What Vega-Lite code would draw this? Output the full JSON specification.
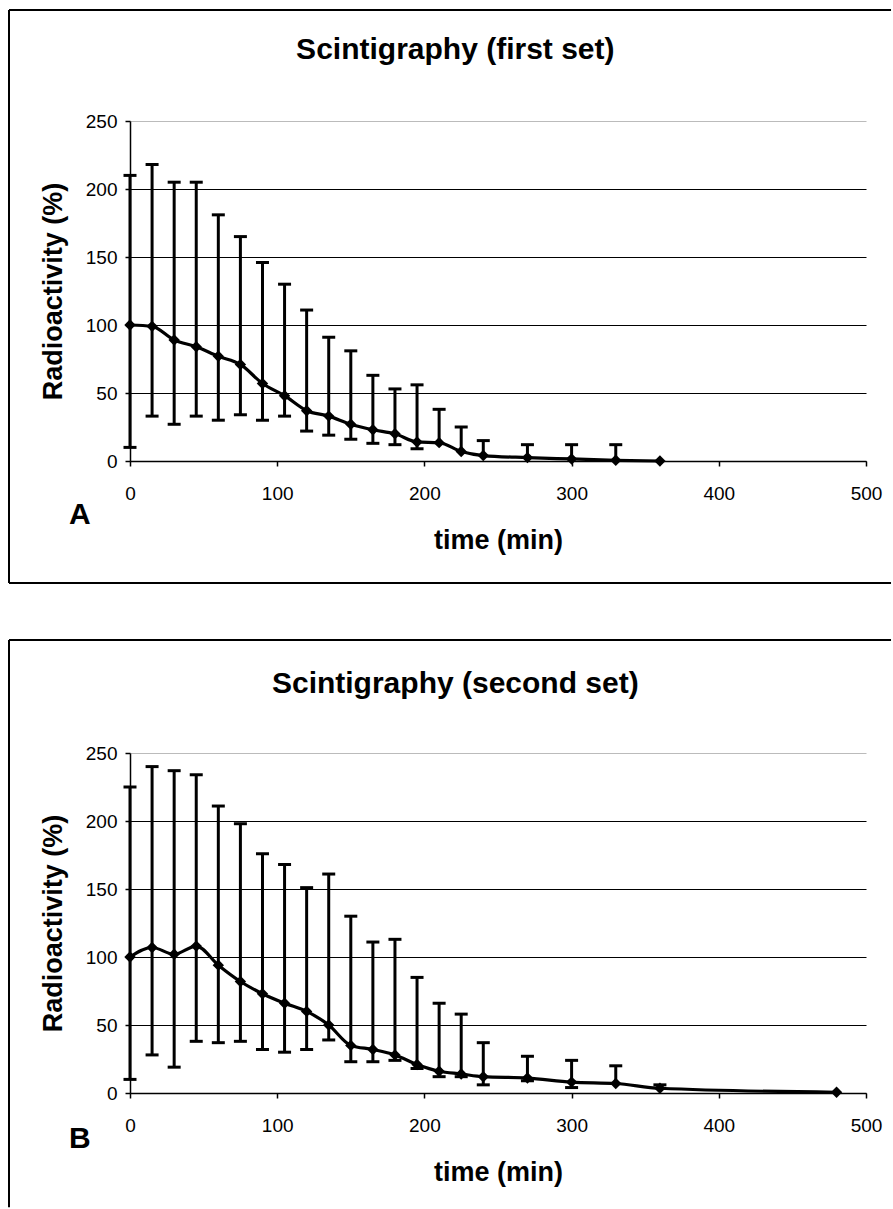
{
  "$schema": "https://vega.github.io/schema/vega-lite/v6.json",
  "padding": {"left": 8, "top": 9, "right": 0, "bottom": 0},
  "background": "white",
  "spacing": 54,
  "config": {
    "font": "Liberation Sans",
    "view": {"stroke": null},
    "axis": {
      "domainColor": "black", "tickColor": "black", "labelColor": "black", "titleColor": "black",
      "labelFont": "Liberation Sans", "titleFont": "Liberation Sans",
      "labelFontSize": 19, "titleFontSize": 27, "titleFontWeight": "bold",
      "tickSize": 5, "domainWidth": 1.5, "tickWidth": 1.5
    }
  },
  "vconcat": [
    {
      "width": 736, "height": 340,
      "data": {"values": [
        {"t": 0, "m": 100, "lo": 10, "hi": 210, "cap": true},
        {"t": 15, "m": 99, "lo": 33, "hi": 218, "cap": true},
        {"t": 30, "m": 89, "lo": 27, "hi": 205, "cap": true},
        {"t": 45, "m": 84, "lo": 33, "hi": 205, "cap": true},
        {"t": 60, "m": 77, "lo": 30, "hi": 181, "cap": true},
        {"t": 75, "m": 71, "lo": 34, "hi": 165, "cap": true},
        {"t": 90, "m": 57, "lo": 30, "hi": 146, "cap": true},
        {"t": 105, "m": 48, "lo": 33, "hi": 130, "cap": true},
        {"t": 120, "m": 37, "lo": 22, "hi": 111, "cap": true},
        {"t": 135, "m": 33, "lo": 19, "hi": 91, "cap": true},
        {"t": 150, "m": 27, "lo": 16, "hi": 81, "cap": true},
        {"t": 165, "m": 23, "lo": 13, "hi": 63, "cap": true},
        {"t": 180, "m": 20, "lo": 12, "hi": 53, "cap": true},
        {"t": 195, "m": 14, "lo": 9, "hi": 56, "cap": true},
        {"t": 210, "m": 13.5, "lo": 13.5, "hi": 38, "cap": false},
        {"t": 225, "m": 7, "lo": 7, "hi": 25, "cap": false},
        {"t": 240, "m": 4, "lo": 4, "hi": 15, "cap": false},
        {"t": 270, "m": 2.5, "lo": 2.5, "hi": 12, "cap": false},
        {"t": 300, "m": 1.5, "lo": 1.5, "hi": 12, "cap": false},
        {"t": 330, "m": 0.5, "lo": 0.5, "hi": 12, "cap": false},
        {"t": 360, "m": 0, "lo": null, "hi": null, "cap": false}
      ]},
      "layer": [
        {
          "data": {"values": [{}]},
          "mark": {"type": "rule", "color": "black", "strokeWidth": 2},
          "encoding": {
            "x": {"datum": -82.2, "type": "quantitative"},
            "x2": {"datum": 517},
            "y": {"datum": 331.6, "type": "quantitative"}
          }
        },
        {
          "data": {"values": [{}]},
          "mark": {"type": "rule", "color": "black", "strokeWidth": 2},
          "encoding": {
            "x": {"datum": -82.2, "type": "quantitative"},
            "x2": {"datum": 517},
            "y": {"datum": -89.7, "type": "quantitative"}
          }
        },
        {
          "data": {"values": [{}]},
          "mark": {"type": "rule", "color": "black", "strokeWidth": 2},
          "encoding": {
            "x": {"datum": -82.2, "type": "quantitative"},
            "y": {"datum": -89.7, "type": "quantitative"},
            "y2": {"datum": 331.6}
          }
        },
        {
          "data": {"values": [{"label": "Scintigraphy (first set)"}]},
          "mark": {"type": "text", "fontSize": 30, "fontWeight": "bold", "color": "black", "align": "center", "baseline": "middle"},
          "encoding": {
            "x": {"datum": 221, "type": "quantitative"},
            "y": {"datum": 302.2, "type": "quantitative"},
            "text": {"field": "label"}
          }
        },
        {
          "data": {"values": [{"label": "A"}]},
          "mark": {"type": "text", "fontSize": 30, "fontWeight": "bold", "color": "black", "align": "center", "baseline": "middle"},
          "encoding": {
            "x": {"datum": -34, "type": "quantitative"},
            "y": {"datum": -39.7, "type": "quantitative"},
            "text": {"field": "label"}
          }
        },
        {
          "mark": {"type": "rule", "color": "black", "strokeWidth": 3},
          "encoding": {
            "x": {"field": "t", "type": "quantitative"},
            "y": {"field": "lo", "type": "quantitative"},
            "y2": {"field": "hi"}
          }
        },
        {
          "mark": {"type": "tick", "orient": "horizontal", "color": "black", "size": 13, "thickness": 3, "opacity": 1},
          "encoding": {
            "x": {"field": "t", "type": "quantitative"},
            "y": {"field": "hi", "type": "quantitative"}
          }
        },
        {
          "transform": [{"filter": "datum.cap"}],
          "mark": {"type": "tick", "orient": "horizontal", "color": "black", "size": 13, "thickness": 3, "opacity": 1},
          "encoding": {
            "x": {"field": "t", "type": "quantitative"},
            "y": {"field": "lo", "type": "quantitative"}
          }
        },
        {
          "mark": {"type": "line", "color": "black", "strokeWidth": 3.2, "interpolate": "monotone"},
          "encoding": {
            "x": {"field": "t", "type": "quantitative"},
            "y": {"field": "m", "type": "quantitative"}
          }
        },
        {
          "mark": {"type": "point", "shape": "diamond", "filled": true, "color": "black", "size": 130, "opacity": 1},
          "encoding": {
            "x": {"field": "t", "type": "quantitative", "title": "time (min)",
                  "scale": {"domain": [0, 500], "nice": false, "zero": false},
                  "axis": {"values": [0, 100, 200, 300, 400, 500], "grid": false, "labelPadding": 18, "titlePadding": 24, "labelFlush": false}},
            "y": {"field": "m", "type": "quantitative", "title": "Radioactivity (%)",
                  "scale": {"domain": [0, 250], "nice": false, "zero": false},
                  "axis": {"values": [0, 50, 100, 150, 200, 250], "grid": true, "gridWidth": 1.2,
                           "gridColor": {"condition": {"test": "datum.value === 250", "value": "#bbbbbb"}, "value": "black"},
                           "labelPadding": 8, "titlePadding": 18, "labelFlush": false}}
          }
        }
      ]
    },
    {
      "width": 736, "height": 340,
      "data": {"values": [
        {"t": 0, "m": 100, "lo": 10, "hi": 225, "cap": true},
        {"t": 15, "m": 107, "lo": 28, "hi": 240, "cap": true},
        {"t": 30, "m": 102, "lo": 19, "hi": 237, "cap": true},
        {"t": 45, "m": 108, "lo": 38, "hi": 234, "cap": true},
        {"t": 60, "m": 94, "lo": 37, "hi": 211, "cap": true},
        {"t": 75, "m": 82, "lo": 38, "hi": 198, "cap": true},
        {"t": 90, "m": 73, "lo": 32, "hi": 176, "cap": true},
        {"t": 105, "m": 66, "lo": 30, "hi": 168, "cap": true},
        {"t": 120, "m": 60, "lo": 32, "hi": 151, "cap": true},
        {"t": 135, "m": 50, "lo": 39, "hi": 161, "cap": true},
        {"t": 150, "m": 35, "lo": 23, "hi": 130, "cap": true},
        {"t": 165, "m": 32, "lo": 23, "hi": 111, "cap": true},
        {"t": 180, "m": 28, "lo": 24, "hi": 113, "cap": true},
        {"t": 195, "m": 21, "lo": 18, "hi": 85, "cap": true},
        {"t": 210, "m": 16, "lo": 12, "hi": 66, "cap": true},
        {"t": 225, "m": 14, "lo": 12, "hi": 58, "cap": true},
        {"t": 240, "m": 12, "lo": 6, "hi": 37, "cap": true},
        {"t": 270, "m": 11, "lo": 9, "hi": 27, "cap": true},
        {"t": 300, "m": 8, "lo": 4, "hi": 24, "cap": true},
        {"t": 330, "m": 7, "lo": 7, "hi": 20, "cap": false},
        {"t": 360, "m": 3.5, "lo": 3.5, "hi": 6, "cap": false},
        {"t": 480, "m": 0.5, "lo": null, "hi": null, "cap": false}
      ]},
      "layer": [
        {
          "data": {"values": [{}]},
          "mark": {"type": "rule", "color": "black", "strokeWidth": 2},
          "encoding": {
            "x": {"datum": -82.2, "type": "quantitative"},
            "x2": {"datum": 517},
            "y": {"datum": 333.1, "type": "quantitative"}
          }
        },
        {
          "data": {"values": [{}]},
          "mark": {"type": "rule", "color": "black", "strokeWidth": 2},
          "encoding": {
            "x": {"datum": -82.2, "type": "quantitative"},
            "y": {"datum": -84, "type": "quantitative"},
            "y2": {"datum": 333.1}
          }
        },
        {
          "data": {"values": [{"label": "Scintigraphy (second set)"}]},
          "mark": {"type": "text", "fontSize": 30, "fontWeight": "bold", "color": "black", "align": "center", "baseline": "middle"},
          "encoding": {
            "x": {"datum": 221, "type": "quantitative"},
            "y": {"datum": 300.7, "type": "quantitative"},
            "text": {"field": "label"}
          }
        },
        {
          "data": {"values": [{"label": "B"}]},
          "mark": {"type": "text", "fontSize": 30, "fontWeight": "bold", "color": "black", "align": "center", "baseline": "middle"},
          "encoding": {
            "x": {"datum": -34, "type": "quantitative"},
            "y": {"datum": -34, "type": "quantitative"},
            "text": {"field": "label"}
          }
        },
        {
          "mark": {"type": "rule", "color": "black", "strokeWidth": 3},
          "encoding": {
            "x": {"field": "t", "type": "quantitative"},
            "y": {"field": "lo", "type": "quantitative"},
            "y2": {"field": "hi"}
          }
        },
        {
          "mark": {"type": "tick", "orient": "horizontal", "color": "black", "size": 13, "thickness": 3, "opacity": 1},
          "encoding": {
            "x": {"field": "t", "type": "quantitative"},
            "y": {"field": "hi", "type": "quantitative"}
          }
        },
        {
          "transform": [{"filter": "datum.cap"}],
          "mark": {"type": "tick", "orient": "horizontal", "color": "black", "size": 13, "thickness": 3, "opacity": 1},
          "encoding": {
            "x": {"field": "t", "type": "quantitative"},
            "y": {"field": "lo", "type": "quantitative"}
          }
        },
        {
          "mark": {"type": "line", "color": "black", "strokeWidth": 3.2, "interpolate": "monotone"},
          "encoding": {
            "x": {"field": "t", "type": "quantitative"},
            "y": {"field": "m", "type": "quantitative"}
          }
        },
        {
          "mark": {"type": "point", "shape": "diamond", "filled": true, "color": "black", "size": 130, "opacity": 1},
          "encoding": {
            "x": {"field": "t", "type": "quantitative", "title": "time (min)",
                  "scale": {"domain": [0, 500], "nice": false, "zero": false},
                  "axis": {"values": [0, 100, 200, 300, 400, 500], "grid": false, "labelPadding": 18, "titlePadding": 24, "labelFlush": false}},
            "y": {"field": "m", "type": "quantitative", "title": "Radioactivity (%)",
                  "scale": {"domain": [0, 250], "nice": false, "zero": false},
                  "axis": {"values": [0, 50, 100, 150, 200, 250], "grid": true, "gridWidth": 1.2,
                           "gridColor": {"condition": {"test": "datum.value === 250", "value": "#bbbbbb"}, "value": "black"},
                           "labelPadding": 8, "titlePadding": 18, "labelFlush": false}}
          }
        }
      ]
    }
  ]
}
